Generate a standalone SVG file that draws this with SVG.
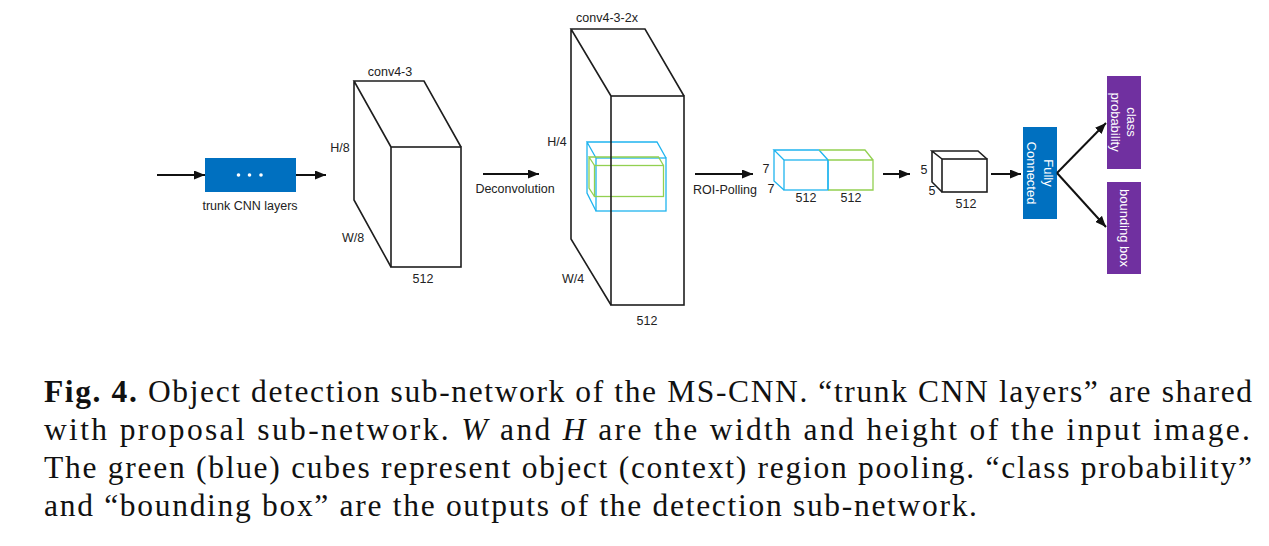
<svg xmlns="http://www.w3.org/2000/svg" width="1269" height="546" viewBox="0 0 1269 546">
<defs>
<marker id="ah" markerUnits="userSpaceOnUse" markerWidth="11" markerHeight="9" refX="11" refY="4.5" orient="auto">
<path d="M0,0 L11,4.5 L0,9 z" fill="#111"/>
</marker>
</defs>
<style>
.lbl{font-family:"Liberation Sans",Arial,sans-serif;font-size:12.5px;fill:#222;}
.wl{font-family:"Liberation Sans",Arial,sans-serif;font-size:13px;fill:#fff;}
.cube{fill:none;stroke:#1e1e1e;stroke-width:1.6;stroke-linejoin:miter;}
.cy{fill:none;stroke:#1fb4ef;stroke-width:1.3;}
.gr{fill:none;stroke:#92d050;stroke-width:1.3;}
.conn{stroke:#111;stroke-width:2;fill:none;marker-end:url(#ah);}
.cap{font-family:"Liberation Serif","Times New Roman",serif;font-size:31.5px;fill:#111;}
</style>
<rect width="1269" height="546" fill="#fff"/>

<g id="trunk">
<rect x="205" y="158" width="91" height="34" fill="#0070c0"/>
<circle cx="238.5" cy="175" r="1.8" fill="#fff"/>
<circle cx="249.5" cy="175" r="1.8" fill="#fff"/>
<circle cx="261" cy="175" r="1.8" fill="#fff"/>
<text class="lbl" x="250" y="210" text-anchor="middle">trunk CNN layers</text>
</g>

<g id="conv43">
<path class="cube" d="M391,147 L354,81 L424,81 L461,147 M354,81 L354,200 L391,267"/>
<rect class="cube" x="391" y="147" width="70" height="120"/>
<text class="lbl" x="390" y="76" text-anchor="middle">conv4-3</text>
<text class="lbl" x="340" y="152" text-anchor="middle">H/8</text>
<text class="lbl" x="353" y="242" text-anchor="middle">W/8</text>
<text class="lbl" x="423" y="283" text-anchor="middle">512</text>
</g>

<g id="roi-context">
<path class="cy" d="M596,158 L587,142 L657,142 L666,158 M587,142 L587,193 L596,211"/>
<rect class="cy" x="596" y="158" width="70" height="53"/>
</g>
<g id="roi-object">
<path class="gr" d="M594.5,165.5 L589,157 L658.5,157 L663.5,165.5 M589,157 L589,188 L594.5,196.5"/>
<rect class="gr" x="594.5" y="165.5" width="69" height="31"/>
</g>

<g id="conv432x">
<path class="cube" d="M611,96 L571,29 L645,29 L684,96 M571,29 L571,239 L611,305"/>
<rect class="cube" x="611" y="96" width="73" height="209"/>
<text class="lbl" x="607" y="22" text-anchor="middle">conv4-3-2x</text>
<text class="lbl" x="557" y="146" text-anchor="middle">H/4</text>
<text class="lbl" x="573" y="283" text-anchor="middle">W/4</text>
<text class="lbl" x="647" y="325" text-anchor="middle">512</text>
</g>

<g id="pooled">
<path class="cy" d="M784,160 L774,150 L819,150 L828,160 M774,150 L774,181 L784,190"/>
<rect class="cy" x="784" y="160" width="44" height="30"/>
<path class="gr" d="M819,150 L865,150 L873,160 M828,160 L873,160 L873,190 L828,190"/>
<line class="cy" x1="828" y1="160" x2="828" y2="190"/>
<text class="lbl" x="766" y="173" text-anchor="middle">7</text>
<text class="lbl" x="771" y="193" text-anchor="middle">7</text>
<text class="lbl" x="806" y="202" text-anchor="middle">512</text>
<text class="lbl" x="851" y="202" text-anchor="middle">512</text>
</g>

<g id="conv5">
<path class="cube" d="M942,159 L932,151 L978,151 L987,159 M932,151 L932,182 L942,192" stroke-width="1.3"/>
<rect class="cube" x="942" y="159" width="45" height="33" stroke-width="1.3"/>
<text class="lbl" x="924" y="174" text-anchor="middle">5</text>
<text class="lbl" x="932" y="195" text-anchor="middle">5</text>
<text class="lbl" x="966" y="208" text-anchor="middle">512</text>
</g>

<g id="fc">
<rect x="1023" y="127" width="34" height="92" fill="#0070c0"/>
<g transform="translate(1040,173) rotate(90)">
<text class="wl" x="0" y="-4" text-anchor="middle">Fully</text>
<text class="wl" x="0" y="13" text-anchor="middle">Connected</text>
</g>
</g>

<g id="cls">
<rect x="1107" y="76" width="34" height="93" fill="#7030a0"/>
<g transform="translate(1124,122) rotate(90)">
<text class="wl" x="0" y="-3" text-anchor="middle">class</text>
<text class="wl" x="0" y="13" text-anchor="middle">probability</text>
</g>
</g>

<g id="bbox">
<rect x="1107" y="182" width="34" height="92" fill="#7030a0"/>
<g transform="translate(1124,228) rotate(90)">
<text class="wl" x="0" y="4.5" text-anchor="middle">bounding box</text>
</g>
</g>

<g id="connectors">
<line class="conn" x1="157" y1="175" x2="205" y2="175"/>
<line class="conn" x1="296" y1="175" x2="326" y2="175"/>
<line class="conn" x1="483" y1="174" x2="539" y2="174"/>
<line class="conn" x1="695" y1="174" x2="753" y2="174"/>
<line class="conn" x1="883" y1="174" x2="910" y2="174"/>
<line class="conn" x1="991" y1="174" x2="1021" y2="174"/>
<line class="conn" x1="1057" y1="173" x2="1106" y2="123"/>
<line class="conn" x1="1057" y1="173" x2="1106" y2="227"/>
<text class="lbl" x="515" y="193" text-anchor="middle">Deconvolution</text>
<text class="lbl" x="725" y="194" text-anchor="middle">ROI-Polling</text>
</g>

<g id="caption">
<text class="cap" x="44" y="402" textLength="1208" lengthAdjust="spacing"><tspan font-weight="bold">Fig. 4.</tspan> Object detection sub-network of the MS-CNN. “trunk CNN layers” are shared</text>
<text class="cap" x="44" y="440" textLength="1206" lengthAdjust="spacing">with proposal sub-network. <tspan font-style="italic">W</tspan> and <tspan font-style="italic">H</tspan> are the width and height of the input image.</text>
<text class="cap" x="44" y="478" textLength="1208" lengthAdjust="spacing">The green (blue) cubes represent object (context) region pooling. “class probability”</text>
<text class="cap" x="44" y="516" textLength="933" lengthAdjust="spacing">and “bounding box” are the outputs of the detection sub-network.</text>
</g>
</svg>
